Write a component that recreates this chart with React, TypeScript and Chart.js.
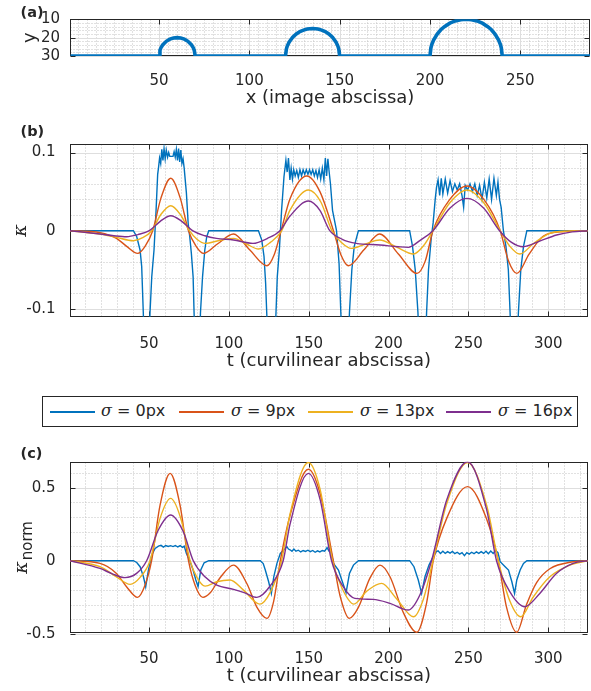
import React, { useEffect, useRef } from 'react';
import { Chart, registerables } from 'chart.js';

Chart.register(...registerables);

const SANS = '"DejaVu Sans", sans-serif';
const SERIF = '"DejaVu Serif", serif';
const INK = '#262626';
const MAJOR_GRID = '#dedede';
const MINOR_GRID = '#c2c2c2';

const SERIES_COLORS = ['#0072BD', '#D95319', '#EDB120', '#7E2F8E'];
const SIGMAS = [0, 9, 13, 16];

// ---------- tick values ----------
const X_TICKS_A = [50, 100, 150, 200, 250];
const Y_TICKS_A = [10, 20, 30];
const T_TICKS = [50, 100, 150, 200, 250, 300];
const Y_TICKS_B = [-0.1, 0, 0.1];
const Y_TICK_LABELS_B = ['-0.1', '0', '0.1'];
const Y_TICKS_C = [-0.5, 0, 0.5];
const Y_TICK_LABELS_C = ['-0.5', '0', '0.5'];

// ---------- panel (a): contour in the image ----------
const SHAPE_X = [1, 50, 50.5, 51, 52, 54, 56, 58, 60, 62, 64, 66, 68, 69, 69.5, 70,
  120, 120.5, 121, 122, 124, 126, 128, 130, 132, 135, 138, 140, 142, 144, 146, 148, 149, 149.5, 150,
  200, 200.5, 201, 202, 204, 206, 208, 211, 214, 217, 220, 223, 226, 229, 232, 234, 236, 238, 239, 239.5, 240, 289];
const SHAPE_Y = [30, 30, 26.9, 25.6, 24, 22, 20.8, 20.2, 20, 20.2, 20.8, 22, 24, 25.6, 26.9, 30,
  30, 26.2, 24.6, 22.5, 19.8, 18, 16.7, 15.9, 15.3, 15, 15.3, 15.9, 16.7, 18, 19.8, 22.5, 24.6, 26.2, 30,
  30, 25.6, 23.8, 21.3, 18, 15.7, 14, 12.1, 10.9, 10.2, 10, 10.2, 10.9, 12.1, 14, 15.7, 18, 21.3, 23.8, 25.6, 30, 30];

// ---------- panel (b): curvature kappa, [t, value] ----------
const KAPPA_S0: [number, number][] = [
  [0.5, 0], [40.2, 0], [42.3, -0.0077], [44.4, -0.025], [45.4, -0.046], [46.4, -0.105], [48.5, -0.26], [50.6, -0.105], [51.7, -0.059], [53.1, -0.025], [54.4, 0.026], [55.4, 0.072],
  [55.9, 0.080], [56.6, 0.093], [57.3, 0.086], [58.0, 0.104], [58.7, 0.090], [59.4, 0.105], [60.1, 0.092], [60.8, 0.103], [61.6, 0.094], [62.3, 0.100], [63.0, 0.095], [65.0, 0.095], [65.7, 0.101], [66.4, 0.094], [67.1, 0.104], [67.8, 0.090], [68.5, 0.105], [69.2, 0.088], [69.9, 0.103], [70.6, 0.086], [71.3, 0.092], [72.0, 0.080],
  [73.4, 0.048], [74.5, 0.0094], [75.5, -0.0077], [76.5, -0.029], [77.6, -0.059], [78.2, -0.105], [80.2, -0.26], [82.2, -0.105], [83.5, -0.059], [84.9, -0.025], [86.1, -0.008], [87.4, 0],
  [118.5, 0], [120.6, -0.012], [122.0, -0.033], [123.0, -0.067], [123.7, -0.105], [126.6, -0.26], [129.5, -0.105], [130.3, -0.059], [131.6, -0.025], [133.0, 0.026], [134.5, 0.069],
  [135.7, 0.090], [136.5, 0.075], [137.3, 0.093], [138.2, 0.065], [139.0, 0.080], [139.8, 0.066], [140.6, 0.078], [141.5, 0.070], [142.5, 0.077], [143.5, 0.068], [144.5, 0.078], [145.5, 0.070], [146.5, 0.078], [147.5, 0.072], [148.5, 0.078], [149.5, 0.072], [150.5, 0.078], [151.5, 0.072], [152.5, 0.078], [153.5, 0.070], [154.5, 0.077], [155.5, 0.068], [156.5, 0.078], [157.5, 0.066], [158.5, 0.080], [159.5, 0.065], [160.4, 0.093], [161.2, 0.070], [162.0, 0.092], [162.8, 0.075],
  [163.6, 0.060], [164.9, 0.026], [167.4, 0], [169.0, -0.042], [170.1, -0.105], [172.9, -0.26], [175.5, -0.105], [177.0, -0.05], [178.5, -0.02], [181.1, 0],
  [213.2, 0], [215.0, -0.02], [216.7, -0.05], [218.4, -0.105], [221.2, -0.26], [223.8, -0.105], [225.0, -0.05], [226.7, -0.01], [227.9, 0.01], [229.2, 0.04],
  [230.0, 0.055], [231.0, 0.065], [232.0, 0.045], [233.0, 0.067], [234.0, 0.047], [235.5, 0.066], [237.0, 0.048], [238.5, 0.064], [240.0, 0.050], [241.5, 0.060], [243.0, 0.052], [244.5, 0.060], [246.0, 0.045], [247.0, 0.030], [248.0, 0.058], [249.5, 0.052], [251.0, 0.060], [252.5, 0.050], [254.0, 0.060], [255.5, 0.045], [257.0, 0.058], [258.5, 0.040], [260.0, 0.062], [261.5, 0.042], [263.0, 0.066], [264.5, 0.040], [266.0, 0.067], [267.5, 0.045], [268.5, 0.062], [269.5, 0.040],
  [270.5, 0.030], [271.9, 0], [273.5, -0.02], [275.0, -0.05], [276.1, -0.105], [278.7, -0.26], [281.3, -0.105], [282.8, -0.05], [284.5, -0.02], [286.6, 0], [324.7, 0],
];
const KAPPA_S9: [number, number][] = [
  [0.5, 0], [19.3, -0.0026], [29.6, -0.0098], [36, -0.02], [42.9, -0.029], [47.5, -0.02], [52.3, 0], [57.5, 0.042], [63.6, 0.067], [69.5, 0.042], [74.7, 0], [79.5, -0.02], [84.1, -0.029],
  [93, -0.0167], [102.9, -0.0043], [113, -0.0245], [123.8, -0.0448], [128.5, -0.030], [132.7, 0], [138.3, 0.041], [148.8, 0.070], [157, 0.050], [165.5, 0], [170, -0.030], [174.9, -0.0448],
  [184.6, -0.0245], [194.4, -0.0043], [206, -0.0295], [217.8, -0.0546], [223, -0.0386], [227.8, 0], [238, 0.039], [249.1, 0.0571], [260, 0.039], [269.9, 0], [275, -0.038], [280.4, -0.0546],
  [288, -0.030], [297, -0.0068], [310, -0.001], [324.7, 0],
];
const KAPPA_S13: [number, number][] = [
  [0.5, 0], [19.3, -0.0043], [29.6, -0.0085], [40.2, -0.0128], [46, -0.009], [51.7, 0], [57.5, 0.021], [63.6, 0.032], [69.5, 0.021], [75.3, 0], [80, -0.011], [85.2, -0.0162],
  [94, -0.0125], [102.9, -0.0098], [111, -0.017], [118.5, -0.0234], [126, -0.015], [133.1, 0], [138.3, 0.0264], [149.8, 0.052], [157.5, 0.037], [164.5, 0], [170.5, -0.015], [176.6, -0.0226],
  [185.5, -0.017], [194.4, -0.0119], [205, -0.021], [215.6, -0.0298], [222, -0.019], [227.8, 0], [238.5, 0.036], [249.1, 0.052], [259.5, 0.036], [269.9, 0], [276, -0.02], [282.2, -0.0298],
  [291, -0.016], [301, -0.0034], [312, -0.0005], [324.7, 0],
];
const KAPPA_S16: [number, number][] = [
  [0.5, 0], [19.3, -0.0043], [28, -0.0065], [36, -0.0077], [43, -0.005], [50.2, 0], [57, 0.012], [63.6, 0.0192], [70.5, 0.012], [77.2, 0], [85, -0.0065], [92.2, -0.0098],
  [102.9, -0.0119], [115.1, -0.0162], [124, -0.010], [132, 0], [138.3, 0.0188], [149.8, 0.0379], [157, 0.026], [163.2, 0], [171, -0.011], [179.9, -0.0162], [194.6, -0.0183],
  [206, -0.0205], [212.3, -0.0213], [220, -0.012], [227.8, 0], [238.5, 0.029], [249.1, 0.0413], [259.5, 0.029], [269.5, 0], [277, -0.015], [284.3, -0.0205], [295, -0.013],
  [305.2, -0.0055], [315, -0.0015], [324.7, 0],
];

// ---------- panel (c): normalised curvature, [t, value] ----------
const KNORM_S0: [number, number][] = [
  [0.5, 0], [40.2, 0], [42.3, -0.012], [44.4, -0.041], [46.5, -0.11], [47.9, -0.178], [49.6, -0.064], [51.7, 0.039], [53.8, 0.084], [55.9, 0.10],
  [57.5, 0.105], [59, 0.093], [60.5, 0.104], [62, 0.098], [63.5, 0.103], [65, 0.097], [66.5, 0.104], [68, 0.094], [69.5, 0.103], [71, 0.092], [72, 0.100],
  [73.4, 0.05], [75.5, 0], [77.6, -0.064], [79.3, -0.132], [80.7, -0.178], [82.4, -0.064], [84.5, -0.014], [87.4, 0],
  [119.7, 0], [121.5, -0.02], [122.8, -0.064], [124.9, -0.144], [126.6, -0.224], [128.1, -0.11], [130.1, -0.018], [132.2, 0.05], [134.3, 0.073], [136.3, 0.096], [137.3, 0.08],
  [138.3, 0.075], [139.5, 0.065], [140.7, 0.08], [142, 0.065], [143.5, 0.072], [145, 0.06], [146.5, 0.07], [148, 0.064], [149.5, 0.072], [151, 0.062], [152.5, 0.07], [154, 0.058], [155.5, 0.068], [157, 0.06], [158.5, 0.07], [160, 0.065], [161.5, 0.09], [162.5, 0.07], [163.5, 0.088],
  [165.5, -0.018], [168.6, -0.064], [170.7, -0.132], [173.4, -0.219], [175.5, -0.087], [178, -0.03], [181.1, 0],
  [213.2, 0], [215.9, -0.041], [218.6, -0.132], [220.7, -0.224], [222.8, -0.11], [225.3, -0.03], [227.4, 0.016], [229.9, 0.062],
  [231, 0.068], [232.5, 0.05], [234, 0.065], [235.5, 0.05], [237, 0.062], [238.5, 0.052], [240, 0.063], [241.5, 0.048], [243, 0.058], [244.5, 0.045], [246, 0.055], [247.5, 0.035], [249, 0.055], [250.5, 0.045], [252, 0.058], [253.5, 0.048], [255, 0.06], [256.5, 0.05], [258, 0.062], [259.5, 0.05], [261, 0.065], [262.5, 0.048], [264, 0.066], [265.5, 0.05], [267, 0.07], [268.5, 0.055],
  [269.9, -0.007], [273, -0.041], [275.1, -0.064], [277.2, -0.144], [278.9, -0.224], [280.3, -0.132], [282.4, -0.064], [284.5, -0.018], [286.6, 0], [324.7, 0],
];
const KNORM_S9: [number, number][] = [
  [0.5, 0], [19.3, -0.018], [29.6, -0.087], [35.9, -0.178], [42.8, -0.251], [47.4, -0.17], [51.6, 0], [56.9, 0.38], [63.2, 0.598], [69.4, 0.38], [74.7, 0], [78.9, -0.17], [83.7, -0.251],
  [88.3, -0.22], [94.6, -0.115], [102.9, -0.03], [111.3, -0.158], [117.5, -0.318], [123.8, -0.395], [128, -0.28], [132.2, 0], [138.3, 0.31], [149.8, 0.626], [157.1, 0.46], [165.4, 0],
  [169.6, -0.24], [175.4, -0.395], [181.1, -0.32], [188.4, -0.118], [194.6, -0.03], [200.9, -0.11], [209.2, -0.354], [217.6, -0.49], [223.8, -0.29], [228, 0], [236.4, 0.29], [249.5, 0.507],
  [261.4, 0.285], [268.7, 0], [273.9, -0.32], [280.2, -0.49], [286.4, -0.3], [292.7, -0.15], [301, -0.055], [315.6, -0.007], [324.7, 0],
];
const KNORM_S13: [number, number][] = [
  [0.5, 0], [19.3, -0.041], [29.6, -0.11], [38.1, -0.162], [44.4, -0.114], [50.6, 0], [56.9, 0.29], [63.5, 0.427], [70.4, 0.27], [75.7, 0], [79.9, -0.112], [85.1, -0.174],
  [92.4, -0.144], [100.7, -0.132], [109, -0.2], [119.4, -0.297], [125.7, -0.22], [133, 0], [138.3, 0.32], [149.8, 0.673], [157.1, 0.49], [164.9, 0], [170.5, -0.18], [178.3, -0.297],
  [186.2, -0.21], [195.6, -0.155], [205, -0.26], [215.6, -0.384], [221.9, -0.26], [227.8, 0], [236.4, 0.39], [249.5, 0.673], [261.4, 0.38], [268.7, 0], [276.1, -0.28], [282.8, -0.384],
  [290.5, -0.25], [301, -0.11], [313.5, -0.03], [324.7, 0],
];
const KNORM_S16: [number, number][] = [
  [0.5, 0], [19.3, -0.053], [27, -0.09], [34.9, -0.116], [42.2, -0.087], [48.5, 0], [55.8, 0.21], [63.5, 0.313], [71.4, 0.2], [77.7, 0], [85, -0.11], [92.4, -0.167],
  [102.9, -0.196], [110, -0.22], [117.5, -0.251], [125.7, -0.175], [134, 0], [138.3, 0.25], [149.8, 0.598], [157.1, 0.42], [164.3, 0], [171.6, -0.178], [178.9, -0.258],
  [190.3, -0.265], [200.9, -0.292], [212.3, -0.338], [219.6, -0.235], [226.9, 0], [236.4, 0.416], [249.5, 0.678], [261.4, 0.35], [267.6, 0], [276.1, -0.215], [285.3, -0.315],
  [294.7, -0.224], [305.1, -0.087], [315.6, -0.018], [324.7, 0],
];

const KAPPA_SERIES = [KAPPA_S0, KAPPA_S9, KAPPA_S13, KAPPA_S16];
const KNORM_SERIES = [KNORM_S0, KNORM_S9, KNORM_S13, KNORM_S16];

// grid positions helper (not data)
const steps = (from: number, to: number, step: number, skip: number[]) => {
  const out: number[] = [];
  for (let i = 0; from + i * step <= to + 1e-9; i++) {
    const v = +(from + i * step).toFixed(6);
    if (!skip.some((s) => Math.abs(s - v) < 1e-9)) out.push(v);
  }
  return out;
};

const framePlugin = {
  id: 'frame',
  beforeDatasetsDraw(chart: any, _args: any, opts: any) {
    const { ctx, chartArea: a, scales } = chart;
    const xs = scales.x, ys = scales.y;
    const L = Math.round(a.left) + 0.5, R = Math.round(a.right) - 0.5;
    const T = Math.round(a.top) + 0.5, B = Math.round(a.bottom) - 0.5;
    const px = (v: number) => Math.round(xs.getPixelForValue(v)) + 0.5;
    const py = (v: number) => Math.round(ys.getPixelForValue(v)) + 0.5;
    ctx.save();
    ctx.lineWidth = 1;
    ctx.strokeStyle = MINOR_GRID;
    ctx.setLineDash([1, 2]);
    ctx.beginPath();
    for (const v of opts.xMinor) { const p = px(v); ctx.moveTo(p, T); ctx.lineTo(p, B); }
    for (const v of opts.yMinor) { const p = py(v); ctx.moveTo(L, p); ctx.lineTo(R, p); }
    ctx.stroke();
    ctx.setLineDash([]);
    ctx.strokeStyle = MAJOR_GRID;
    ctx.beginPath();
    for (const v of opts.xMajor) { const p = px(v); ctx.moveTo(p, T); ctx.lineTo(p, B); }
    for (const v of opts.yMajor) { const p = py(v); ctx.moveTo(L, p); ctx.lineTo(R, p); }
    ctx.stroke();
    ctx.strokeStyle = INK;
    ctx.strokeRect(L, T, R - L, B - T);
    ctx.beginPath();
    for (const v of opts.xMajor) { const p = px(v); ctx.moveTo(p, B); ctx.lineTo(p, B - 5); ctx.moveTo(p, T); ctx.lineTo(p, T + 5); }
    for (const v of opts.yMajor) { const p = py(v); ctx.moveTo(L, p); ctx.lineTo(L + 5, p); ctx.moveTo(R, p); ctx.lineTo(R - 5, p); }
    ctx.stroke();
    ctx.restore();
  },
};

const subLabelPlugin = {
  id: 'subLabel',
  afterDraw(chart: any, _args: any, opts: any) {
    if (!opts || !opts.text) return;
    const { ctx, chartArea: a } = chart;
    ctx.save();
    ctx.translate(opts.x, (a.top + a.bottom) / 2);
    ctx.rotate(-Math.PI / 2);
    ctx.fillStyle = INK;
    ctx.textBaseline = 'alphabetic';
    ctx.textAlign = 'left';
    const mainFont = `italic 19px ${SERIF}`;
    const subFont = `15px ${SANS}`;
    ctx.font = mainFont;
    const w1 = ctx.measureText(opts.text).width;
    ctx.font = subFont;
    const w2 = ctx.measureText(opts.sub).width;
    const start = -(w1 + w2 + 1) / 2;
    ctx.font = mainFont;
    ctx.fillText(opts.text, start, 5);
    ctx.font = subFont;
    ctx.fillText(opts.sub, start + w1 + 1, 10);
    ctx.restore();
  },
};

const labelFor = (vals: number[], labels: string[]) => (v: any) => {
  const i = vals.findIndex((t) => Math.abs(t - Number(v)) < 1e-9);
  return i >= 0 ? labels[i] : '';
};

const tickFont = { family: SANS, size: 15 };
const titleFont = { family: SANS, size: 18 };

function curveDatasets(series: [number, number][][]) {
  return series.map((pairs, i) => ({
    label: `σ = ${SIGMAS[i]}px`,
    data: pairs.map(([x, y]) => ({ x, y })),
    borderColor: SERIES_COLORS[i],
    backgroundColor: SERIES_COLORS[i],
    borderWidth: 1.4,
    pointRadius: 0,
    fill: false,
    tension: 0,
    cubicInterpolationMode: i === 0 ? 'default' : 'monotone',
    order: 3 - i,
  }));
}

function baseOptions(extra: any) {
  return {
    responsive: false,
    animation: false,
    events: [],
    plugins: { legend: { display: false }, tooltip: { enabled: false }, ...extra.plugins },
    layout: extra.layout,
    scales: extra.scales,
  };
}

export default function App() {
  const refA = useRef<HTMLCanvasElement>(null);
  const refB = useRef<HTMLCanvasElement>(null);
  const refC = useRef<HTMLCanvasElement>(null);

  useEffect(() => {
    Chart.defaults.font.family = SANS;
    Chart.defaults.color = INK;

    const chartA = new Chart(refA.current as HTMLCanvasElement, {
      type: 'line',
      data: {
        datasets: [{
          label: 'contour',
          data: SHAPE_X.map((x, i) => ({ x, y: SHAPE_Y[i] })),
          borderColor: SERIES_COLORS[0],
          borderWidth: 3.6,
          pointRadius: 0,
          fill: false,
          tension: 0,
        }],
      },
      options: baseOptions({
        layout: { padding: { top: 19.3, right: 1, left: 0, bottom: 0 } },
        plugins: {
          frame: {
            xMajor: X_TICKS_A, yMajor: Y_TICKS_A,
            xMinor: steps(5, 285, 5, X_TICKS_A), yMinor: steps(12, 28, 2, Y_TICKS_A),
          },
        },
        scales: {
          x: {
            type: 'linear', min: 0.7, max: 288.6,
            grid: { display: false }, border: { display: false },
            afterBuildTicks: (s: any) => { s.ticks = X_TICKS_A.map((v) => ({ value: v })); },
            ticks: { autoSkip: false, maxRotation: 0, minRotation: 0, padding: 8.3, font: tickFont, color: INK, callback: (v: any) => String(v) },
            title: { display: true, text: 'x (image abscissa)', font: titleFont, color: INK, padding: { top: 0, bottom: 1.2 } },
            afterFit: (s: any) => { s.height = 54; },
          },
          y: {
            type: 'linear', min: 10, max: 30, reverse: true,
            grid: { display: false }, border: { display: false },
            afterBuildTicks: (s: any) => { s.ticks = Y_TICKS_A.map((v) => ({ value: v })); },
            ticks: { autoSkip: false, padding: 2, font: tickFont, color: INK, callback: (v: any) => String(v) },
            title: { display: true, text: 'y', font: titleFont, color: INK, padding: { top: 19.6, bottom: 0 } },
            afterFit: (s: any) => { s.width = 70; },
          },
        },
      }),
      plugins: [framePlugin],
    } as any);

    const chartB = new Chart(refB.current as HTMLCanvasElement, {
      type: 'line',
      data: { datasets: curveDatasets(KAPPA_SERIES) as any },
      options: baseOptions({
        layout: { padding: { top: 34.3, right: 3.3, left: 0, bottom: 0 } },
        plugins: {
          frame: {
            xMajor: T_TICKS, yMajor: Y_TICKS_B,
            xMinor: steps(10, 320, 10, T_TICKS), yMinor: steps(-0.1, 0.1, 0.02, Y_TICKS_B),
          },
        },
        scales: {
          x: {
            type: 'linear', min: 0.5, max: 324.7,
            grid: { display: false }, border: { display: false },
            afterBuildTicks: (s: any) => { s.ticks = T_TICKS.map((v) => ({ value: v })); },
            ticks: { autoSkip: false, maxRotation: 0, minRotation: 0, padding: 10.5, font: tickFont, color: INK, callback: (v: any) => String(v) },
            title: { display: true, text: 't (curvilinear abscissa)', font: titleFont, color: INK, padding: { top: 0, bottom: 18.2 } },
            afterFit: (s: any) => { s.height = 73.3; },
          },
          y: {
            type: 'linear', min: -0.11, max: 0.1105,
            grid: { display: false }, border: { display: false },
            afterBuildTicks: (s: any) => { s.ticks = Y_TICKS_B.map((v) => ({ value: v })); },
            ticks: { autoSkip: false, padding: 6.5, font: tickFont, color: INK, callback: labelFor(Y_TICKS_B, Y_TICK_LABELS_B) },
            title: { display: true, text: 'κ', font: { family: SERIF, style: 'italic', size: 19 }, color: INK, padding: { top: 10, bottom: 0 } },
            afterFit: (s: any) => { s.width = 70; },
          },
        },
      }),
      plugins: [framePlugin],
    } as any);

    const chartC = new Chart(refC.current as HTMLCanvasElement, {
      type: 'line',
      data: { datasets: curveDatasets(KNORM_SERIES) as any },
      options: baseOptions({
        layout: { padding: { top: 31.7, right: 3.3, left: 0, bottom: 0 } },
        plugins: {
          frame: {
            xMajor: T_TICKS, yMajor: Y_TICKS_C,
            xMinor: steps(10, 320, 10, T_TICKS), yMinor: steps(-0.4, 0.6, 0.1, Y_TICKS_C),
          },
          subLabel: { text: 'κ', sub: 'norm', x: 22 },
        },
        scales: {
          x: {
            type: 'linear', min: 0.5, max: 324.7,
            grid: { display: false }, border: { display: false },
            afterBuildTicks: (s: any) => { s.ticks = T_TICKS.map((v) => ({ value: v })); },
            ticks: { autoSkip: false, maxRotation: 0, minRotation: 0, padding: 9, font: tickFont, color: INK, callback: (v: any) => String(v) },
            title: { display: true, text: 't (curvilinear abscissa)', font: titleFont, color: INK, padding: { top: 0, bottom: 4.2 } },
            afterFit: (s: any) => { s.height = 58; },
          },
          y: {
            type: 'linear', min: -0.495, max: 0.678,
            grid: { display: false }, border: { display: false },
            afterBuildTicks: (s: any) => { s.ticks = Y_TICKS_C.map((v) => ({ value: v })); },
            ticks: { autoSkip: false, padding: 6.5, font: tickFont, color: INK, callback: labelFor(Y_TICKS_C, Y_TICK_LABELS_C) },
            afterFit: (s: any) => { s.width = 70; },
          },
        },
      }),
      plugins: [framePlugin, subLabelPlugin],
    } as any);

    return () => { chartA.destroy(); chartB.destroy(); chartC.destroy(); };
  }, []);

  const panelLabel = (text: string, top: number) => (
    <div style={{ position: 'absolute', left: 20.5, top, fontFamily: SANS, fontWeight: 'bold', fontSize: 14.5, lineHeight: '14.5px', color: INK }}>{text}</div>
  );

  const legendLineX = [50, 179, 307.7, 446];
  const legendTextX = [101, 231, 360, 498];

  return (
    <div style={{ position: 'absolute', left: 0, top: 0, width: 591, height: 691, background: '#fff', overflow: 'hidden' }}>
      <canvas ref={refA} width={591} height={110} style={{ position: 'absolute', left: 0, top: 0, width: 591, height: 110 }} />
      <canvas ref={refB} width={591} height={280} style={{ position: 'absolute', left: 0, top: 110, width: 591, height: 280 }} />
      <canvas ref={refC} width={591} height={261} style={{ position: 'absolute', left: 0, top: 430, width: 591, height: 261 }} />
      {panelLabel('(a)', 4.5)}
      {panelLabel('(b)', 124.3)}
      {panelLabel('(c)', 446.3)}
      <div style={{ position: 'absolute', left: 42, top: 396, width: 536, height: 31, border: `1px solid ${INK}`, boxSizing: 'border-box', background: '#fff' }}>
        {SIGMAS.map((s, i) => (
          <React.Fragment key={s}>
            <div style={{ position: 'absolute', left: legendLineX[i] - 43, top: 14, width: 45, height: 1.5, background: SERIES_COLORS[i] }} />
            <div style={{ position: 'absolute', left: legendTextX[i] - 43, top: 5, fontFamily: SANS, fontSize: 16, lineHeight: '18px', color: INK, whiteSpace: 'nowrap' }}>
              <span style={{ fontFamily: SERIF, fontStyle: 'italic' }}>σ</span> = {s}px
            </div>
          </React.Fragment>
        ))}
      </div>
    </div>
  );
}
